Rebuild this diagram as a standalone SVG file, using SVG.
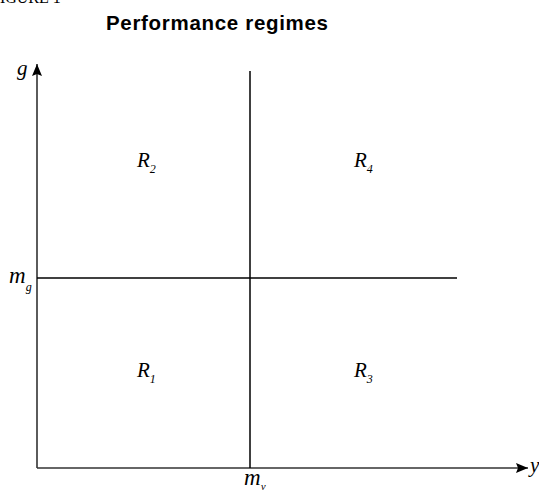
<svg xmlns="http://www.w3.org/2000/svg" width="539" height="490" viewBox="0 0 539 490">
<defs>
<style>
.lbl{font-family:"Liberation Serif","Times New Roman",serif;font-style:italic;fill:#000}
.title{font-family:"Liberation Sans",Arial,sans-serif;font-weight:bold;font-size:20.5px;fill:#000}
.fig{font-family:"Liberation Serif","Times New Roman",serif;font-size:16px;fill:#000}
.axis{stroke:#333;stroke-width:1.6;fill:none}
.div{stroke:#000;stroke-width:1.5;fill:none}
</style>
<marker id="ah" viewBox="0 0 12 10" refX="12" refY="5" markerWidth="12" markerHeight="10" markerUnits="userSpaceOnUse" orient="auto">
<path d="M0,0 L12,5 L0,10 L2,5 Z" fill="#000"/>
</marker>
</defs>
<text class="fig" x="-9" y="3">FIGURE 1</text>
<text class="title" x="106" y="30" textLength="222" lengthAdjust="spacing">Performance regimes</text>
<g id="connectors">
<path id="y-axis" class="axis" d="M37,468 L37,64" marker-end="url(#ah)"/>
<path id="x-axis" class="axis" d="M37,468 L528,468" marker-end="url(#ah)"/>
<path id="v-divider" class="div" d="M250,71 L250,468"/>
<path id="h-divider" class="div" d="M37,278 L457,278"/>
</g>
<g id="axis-labels">
<text class="lbl" x="17" y="75" font-size="21">g</text>
<text class="lbl" x="530" y="472" font-size="21">y</text>
<text class="lbl" x="9" y="283" font-size="23">m<tspan font-size="12" dy="8">g</tspan></text>
<text class="lbl" x="244" y="485" font-size="23">m<tspan font-size="11" dy="5">y</tspan></text>
</g>
<g id="R2"><text class="lbl" x="137" y="167" font-size="21">R<tspan font-size="12" dy="6">2</tspan></text></g>
<g id="R4"><text class="lbl" x="354" y="167" font-size="21">R<tspan font-size="12" dy="6">4</tspan></text></g>
<g id="R1"><text class="lbl" x="137" y="377" font-size="21">R<tspan font-size="12" dy="6">1</tspan></text></g>
<g id="R3"><text class="lbl" x="354" y="377" font-size="21">R<tspan font-size="12" dy="6">3</tspan></text></g>
</svg>
